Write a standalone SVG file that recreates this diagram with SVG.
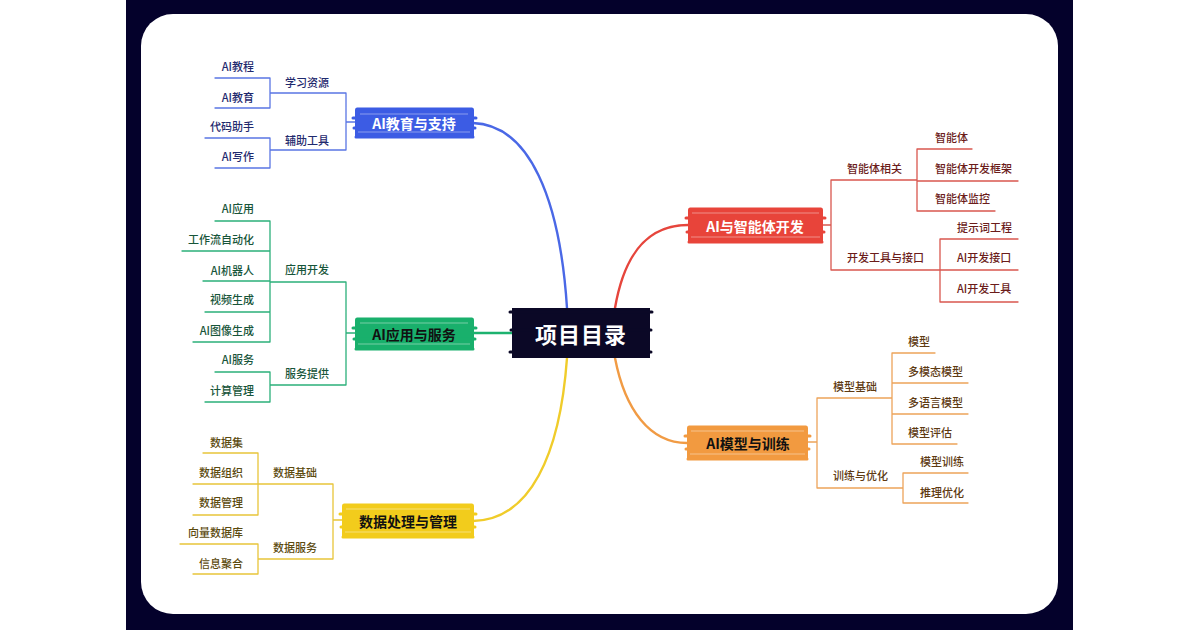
<svg xmlns="http://www.w3.org/2000/svg" width="1200" height="630" viewBox="0 0 1200 630">
<style>
text{font-family:"Noto Sans CJK SC","Noto Sans",sans-serif;dominant-baseline:central}
.leaf{font-size:11px;font-weight:500}
.l2{font-size:11px;font-weight:500}
.main{font-size:14px;font-weight:bold;text-anchor:middle}
.r{text-anchor:end}.m{text-anchor:middle}.s{text-anchor:start}
.blue{fill:#1f2a6e}.green{fill:#17553a}.yellow{fill:#5b4a0e}.red{fill:#6b1c1a}.orange{fill:#5e3a12}
.sub{fill:none;stroke-width:1.3;stroke-linecap:round}
.trunk{fill:none;stroke-width:2.4;stroke-linecap:round}
.streak{stroke:#fff;stroke-opacity:0.4;stroke-width:1}
.edge{fill:none;stroke-width:3;stroke-linecap:round}
</style>
<rect width="1200" height="630" fill="#fff"/>
<rect x="126" y="0" width="947" height="630" fill="#04012b"/>
<rect x="141" y="14" width="917" height="600" rx="32" fill="#fff"/>

<g id="connectors">
<path class="trunk" stroke="#4a68e6" d="M567,308 C560,200 530,125 473,123"/>
<path class="trunk" stroke="#1db26f" d="M473,333 L512,333"/>
<path class="trunk" stroke="#f0cc2a" d="M567,358 C560,455 530,520 473,521"/>
<path class="trunk" stroke="#e6453c" d="M615,308 C625,250 650,225 688,225"/>
<path class="trunk" stroke="#f19b44" d="M615,358 C625,410 650,443 687,443"/>
<path class="sub" stroke="#5a76e4" d="M355,122H346 M346,93V150 M270,93H346 M270,150H346 M270,78V108 M215,78H270 M215,108H270 M270,138V168 M205,138H270 M215,168H270"/>
<path class="sub" stroke="#2bb07a" d="M355,333H346 M346,282V385 M270,282H346 M270,385H346 M270,221V342 M215,221H270 M182,251H270 M203,281H270 M205,312H270 M193,342H270 M270,372V402 M215,372H270 M205,402H270"/>
<path class="sub" stroke="#e8c53a" d="M342,520H333 M333,484V559 M258,484H333 M258,559H333 M258,453V515 M203,453H258 M193,484H258 M193,515H258 M258,544V574 M180,544H258 M193,574H258"/>
<path class="sub" stroke="#d9574f" d="M823,225H831 M831,180V270 M831,180H917 M831,270H940 M917,149V211 M917,149H972 M917,181H1018 M917,211H995 M940,239V302 M940,239H1018 M940,270H1018 M940,302H1018"/>
<path class="sub" stroke="#eda45a" d="M808,442H817 M817,398V488 M817,398H892 M817,488H903 M892,353V444 M892,353H935 M892,383H968 M892,414H968 M892,444H957 M903,473V503 M903,473H968 M903,503H968"/>
</g>

<g id="center">
<rect x="512" y="308" width="138" height="50" fill="#0b0826"/>
<path class="edge" stroke="#0b0826" d="M510,312H652 M511,330H651 M510,352H651"/>
<text x="581" y="333" class="m" style="font-size:22px;font-weight:bold;fill:#fff;letter-spacing:1px">项目目录</text>
</g>

<g id="n-edu">
<rect x="355" y="108" width="119" height="30" rx="2" fill="#3c5ce4"/>
<path class="edge" stroke="#3c5ce4" d="M357,109H472 M353,118H476 M354,128H475 M356,137H473"/>
<path class="streak" d="M360,114H468 M358,132H470"/>
<text x="414" y="123" class="main" fill="#fff">AI教育与支持</text>
</g>
<g id="n-app">
<rect x="355" y="318" width="119" height="32" rx="2" fill="#19b06c"/>
<path class="edge" stroke="#19b06c" d="M357,319H472 M353,328H476 M354,339H475 M356,349H473"/>
<path class="streak" d="M360,323H468 M358,344H470"/>
<text x="414" y="334" class="main" fill="#111">AI应用与服务</text>
</g>
<g id="n-data">
<rect x="342" y="504" width="132" height="34" rx="2" fill="#f2cc1c"/>
<path class="edge" stroke="#f2cc1c" d="M344,505H472 M340,514H476 M341,527H475 M343,537H473"/>
<path class="streak" d="M346,509H470 M345,532H471"/>
<text x="408" y="521" class="main" fill="#111">数据处理与管理</text>
</g>
<g id="n-agent">
<rect x="688" y="208" width="135" height="35" rx="2" fill="#e8443a"/>
<path class="edge" stroke="#e8443a" d="M690,209H821 M686,218H825 M687,232H824 M689,242H822"/>
<path class="streak" d="M692,213H819 M691,237H820"/>
<text x="755" y="226" class="main" fill="#fff">AI与智能体开发</text>
</g>
<g id="n-model">
<rect x="687" y="426" width="121" height="34" rx="2" fill="#f29a40"/>
<path class="edge" stroke="#f29a40" d="M689,427H806 M685,436H810 M686,449H809 M688,459H807"/>
<path class="streak" d="M691,431H804 M690,454H805"/>
<text x="748" y="443" class="main" fill="#111">AI模型与训练</text>
</g>

<g id="edu-children">
<text class="l2 m blue" x="307" y="82">学习资源</text>
<text class="l2 m blue" x="307" y="140">辅助工具</text>
<text class="leaf r blue" x="254" y="66">AI教程</text>
<text class="leaf r blue" x="254" y="97">AI教育</text>
<text class="leaf r blue" x="254" y="126">代码助手</text>
<text class="leaf r blue" x="254" y="156">AI写作</text>
</g>
<g id="app-children">
<text class="l2 m green" x="307" y="269">应用开发</text>
<text class="l2 m green" x="307" y="373">服务提供</text>
<text class="leaf r green" x="254" y="208">AI应用</text>
<text class="leaf r green" x="254" y="239">工作流自动化</text>
<text class="leaf r green" x="254" y="270">AI机器人</text>
<text class="leaf r green" x="254" y="299">视频生成</text>
<text class="leaf r green" x="254" y="330">AI图像生成</text>
<text class="leaf r green" x="254" y="359">AI服务</text>
<text class="leaf r green" x="254" y="390">计算管理</text>
</g>
<g id="data-children">
<text class="l2 m yellow" x="295" y="472">数据基础</text>
<text class="l2 m yellow" x="295" y="547">数据服务</text>
<text class="leaf r yellow" x="243" y="442">数据集</text>
<text class="leaf r yellow" x="243" y="472">数据组织</text>
<text class="leaf r yellow" x="243" y="502">数据管理</text>
<text class="leaf r yellow" x="243" y="532">向量数据库</text>
<text class="leaf r yellow" x="243" y="563">信息聚合</text>
</g>
<g id="agent-children">
<text class="l2 s red" x="847" y="168">智能体相关</text>
<text class="l2 s red" x="847" y="257">开发工具与接口</text>
<text class="leaf s red" x="935" y="137">智能体</text>
<text class="leaf s red" x="935" y="168">智能体开发框架</text>
<text class="leaf s red" x="935" y="198">智能体监控</text>
<text class="leaf s red" x="957" y="227">提示词工程</text>
<text class="leaf s red" x="957" y="257">AI开发接口</text>
<text class="leaf s red" x="957" y="288">AI开发工具</text>
</g>
<g id="model-children">
<text class="l2 s orange" x="833" y="386">模型基础</text>
<text class="l2 s orange" x="833" y="475">训练与优化</text>
<text class="leaf s orange" x="908" y="341">模型</text>
<text class="leaf s orange" x="908" y="371">多模态模型</text>
<text class="leaf s orange" x="908" y="402">多语言模型</text>
<text class="leaf s orange" x="908" y="432">模型评估</text>
<text class="leaf s orange" x="920" y="461">模型训练</text>
<text class="leaf s orange" x="920" y="492">推理优化</text>
</g>
</svg>
